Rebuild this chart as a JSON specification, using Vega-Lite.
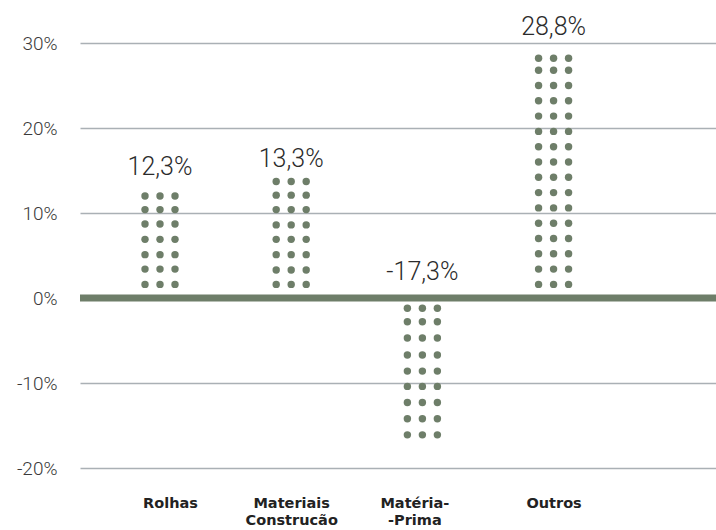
{
  "$schema": "https://vega.github.io/schema/vega-lite/v6.json",
  "width": 636,
  "height": 425,
  "autosize": "none",
  "padding": {"left": 80, "top": 43, "right": 0, "bottom": 62},
  "background": "white",
  "config": {
    "view": {"stroke": null},
    "font": "Roboto",
    "locale": {"number": {"decimal": ",", "thousands": ".", "grouping": [3], "currency": ["", " €"], "minus": "-"}}
  },
  "datasets": {
    "bars": [
      {"cat": "Rolhas", "value": 0.123},
      {"cat": "Materiais Construcão", "value": 0.133},
      {"cat": "Matéria-Prima", "value": -0.173},
      {"cat": "Outros", "value": 0.288}
    ],
    "dots": [
      {"cat": "Rolhas", "v": 0.016}, {"cat": "Rolhas", "v": 0.034}, {"cat": "Rolhas", "v": 0.051}, {"cat": "Rolhas", "v": 0.069},
      {"cat": "Rolhas", "v": 0.087}, {"cat": "Rolhas", "v": 0.104}, {"cat": "Rolhas", "v": 0.120},
      {"cat": "Materiais Construcão", "v": 0.016}, {"cat": "Materiais Construcão", "v": 0.033}, {"cat": "Materiais Construcão", "v": 0.051},
      {"cat": "Materiais Construcão", "v": 0.069}, {"cat": "Materiais Construcão", "v": 0.086}, {"cat": "Materiais Construcão", "v": 0.104},
      {"cat": "Materiais Construcão", "v": 0.121}, {"cat": "Materiais Construcão", "v": 0.137},
      {"cat": "Matéria-Prima", "v": -0.012}, {"cat": "Matéria-Prima", "v": -0.028}, {"cat": "Matéria-Prima", "v": -0.047},
      {"cat": "Matéria-Prima", "v": -0.067}, {"cat": "Matéria-Prima", "v": -0.086}, {"cat": "Matéria-Prima", "v": -0.104},
      {"cat": "Matéria-Prima", "v": -0.123}, {"cat": "Matéria-Prima", "v": -0.142}, {"cat": "Matéria-Prima", "v": -0.161},
      {"cat": "Outros", "v": 0.016}, {"cat": "Outros", "v": 0.034}, {"cat": "Outros", "v": 0.052}, {"cat": "Outros", "v": 0.070},
      {"cat": "Outros", "v": 0.088}, {"cat": "Outros", "v": 0.106}, {"cat": "Outros", "v": 0.124}, {"cat": "Outros", "v": 0.142},
      {"cat": "Outros", "v": 0.160}, {"cat": "Outros", "v": 0.178}, {"cat": "Outros", "v": 0.196}, {"cat": "Outros", "v": 0.214},
      {"cat": "Outros", "v": 0.232}, {"cat": "Outros", "v": 0.250}, {"cat": "Outros", "v": 0.268}, {"cat": "Outros", "v": 0.282}
    ]
  },
  "layer": [
    {
      "data": {"name": "bars"},
      "mark": {"type": "text", "fontSize": 25, "fontWeight": 300, "color": "#2b2b2b", "baseline": "alphabetic", "dy": -18},
      "transform": [{"calculate": "max(datum.value, 0)", "as": "pos"}],
      "encoding": {
        "x": {
          "field": "cat", "type": "nominal", "sort": null,
          "scale": {"type": "point", "domain": ["Rolhas", "Materiais Construcão", "Matéria-Prima", "Outros"], "padding": 0.924, "align": 0.33},
          "axis": {
            "title": null, "domain": false, "ticks": false, "grid": false,
            "labelFont": "DejaVu Sans", "labelFontWeight": "bold", "labelFontSize": 14.5, "labelColor": "#222222",
            "labelPadding": 28, "labelLineHeight": 17, "labelAngle": 0,
            "labelOffset": {"condition": [{"test": "datum.value === 'Rolhas'", "value": 10}, {"test": "datum.value === 'Matéria-Prima'", "value": -8}], "value": 0},
            "labelExpr": "datum.label == 'Materiais Construcão' ? ['Materiais', 'Construcão'] : datum.label == 'Matéria-Prima' ? ['Matéria-', '-Prima'] : datum.label"
          }
        },
        "y": {
          "field": "pos", "type": "quantitative",
          "scale": {"domain": [-0.2, 0.3], "nice": false, "zero": false},
          "axis": {
            "title": null, "domain": false, "ticks": false, "values": [-0.2, -0.1, 0, 0.1, 0.2, 0.3],
            "format": ".0%", "labelFontSize": 19, "labelFontWeight": 300, "labelColor": "#3a3a3a", "labelPadding": 23,
            "grid": true, "gridColor": "#aab0b5", "gridWidth": 1.5
          }
        },
        "text": {"field": "value", "type": "quantitative", "format": ".1%"}
      }
    },
    {
      "data": {"values": [{"zero": 0}]},
      "mark": {"type": "rule", "color": "#6e7e69", "strokeWidth": 7},
      "encoding": {"y": {"field": "zero", "type": "quantitative"}}
    },
    {
      "data": {"name": "dots"},
      "mark": {"type": "circle", "size": 55, "opacity": 1, "color": "#6e7e69", "xOffset": -15},
      "encoding": {"x": {"field": "cat", "type": "nominal", "sort": null}, "y": {"field": "v", "type": "quantitative"}}
    },
    {
      "data": {"name": "dots"},
      "mark": {"type": "circle", "size": 55, "opacity": 1, "color": "#6e7e69"},
      "encoding": {"x": {"field": "cat", "type": "nominal", "sort": null}, "y": {"field": "v", "type": "quantitative"}}
    },
    {
      "data": {"name": "dots"},
      "mark": {"type": "circle", "size": 55, "opacity": 1, "color": "#6e7e69", "xOffset": 15},
      "encoding": {"x": {"field": "cat", "type": "nominal", "sort": null}, "y": {"field": "v", "type": "quantitative"}}
    }
  ]
}
